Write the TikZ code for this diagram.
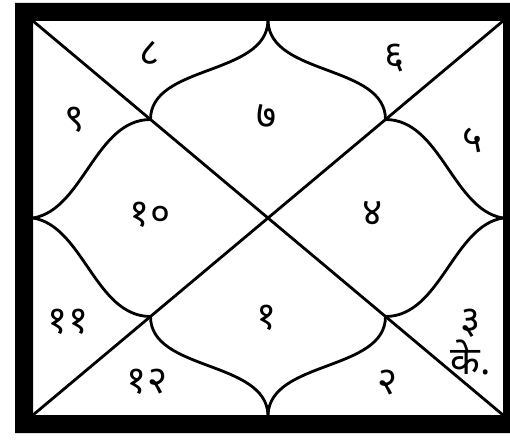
\documentclass[tikz,border=0pt]{standalone}
\usepackage{fontspec}
\newfontfamily\devfont[Script=Devanagari]{Noto Sans}

\begin{document}
\begin{tikzpicture}[x=0.02cm, y=-0.02cm, line width=1.6pt,
    house/.style={font={\devfont\bfseries\fontsize{22}{18}\selectfont}, inner sep=0pt}]
    \useasboundingbox (0,0) rectangle (510,442);

    % 粗黑外框
    \fill[even odd rule] (15,3) rectangle (510,433) (33,21) rectangle (503,415);

    % 角点、边中点、中心
    \coordinate (NW) at (33,21);
    \coordinate (NE) at (503,21);
    \coordinate (SW) at (33,415);
    \coordinate (SE) at (503,415);
    \coordinate (T) at (268,21);
    \coordinate (B) at (268,415);
    \coordinate (L) at (33,218);
    \coordinate (R) at (503,218);
    \coordinate (UL) at (150.5,119.5);
    \coordinate (UR) at (385.5,119.5);
    \coordinate (LL) at (150.5,316.5);
    \coordinate (LR) at (385.5,316.5);

    % 画对角线
    \draw (NW) -- (SE);
    \draw (NE) -- (SW);

    % 画弯曲的边界
    \draw (T) .. controls +(-2,55) and +(0,-55) .. (UL);
    \draw (T) .. controls +(2,55) and +(0,-55) .. (UR);
    \draw (B) .. controls +(-2,-55) and +(0,55) .. (LL);
    \draw (B) .. controls +(2,-55) and +(0,55) .. (LR);
    \draw (L) .. controls +(50,-8) and +(-55,0) .. (UL);
    \draw (L) .. controls +(50,8) and +(-55,0) .. (LL);
    \draw (R) .. controls +(-50,-8) and +(55,0) .. (UR);
    \draw (R) .. controls +(-50,8) and +(55,0) .. (LR);

    % 标注宫位
    \node[house] (h7) at (267,117) {७};
    \node[house] (h8) at (150,53) {८};
    \node[house] (h6) at (395,58) {६};
    \node[house] (h9) at (75,120) {९};
    \node[house] (h5) at (473,140) {५};
    \node[house] (h10) at (150,215) {१०};
    \node[house] (h4) at (373,213) {४};
    \node[house] (h11) at (68,322) {११};
    \node[house] (h1) at (267,318) {१};
    \node[house, align=center] (h3) at (471,342) {३\\के.};
    \node[house] (h12) at (147,382) {१२};
    \node[house] (h2) at (388,383) {२};
\end{tikzpicture}
\end{document}
